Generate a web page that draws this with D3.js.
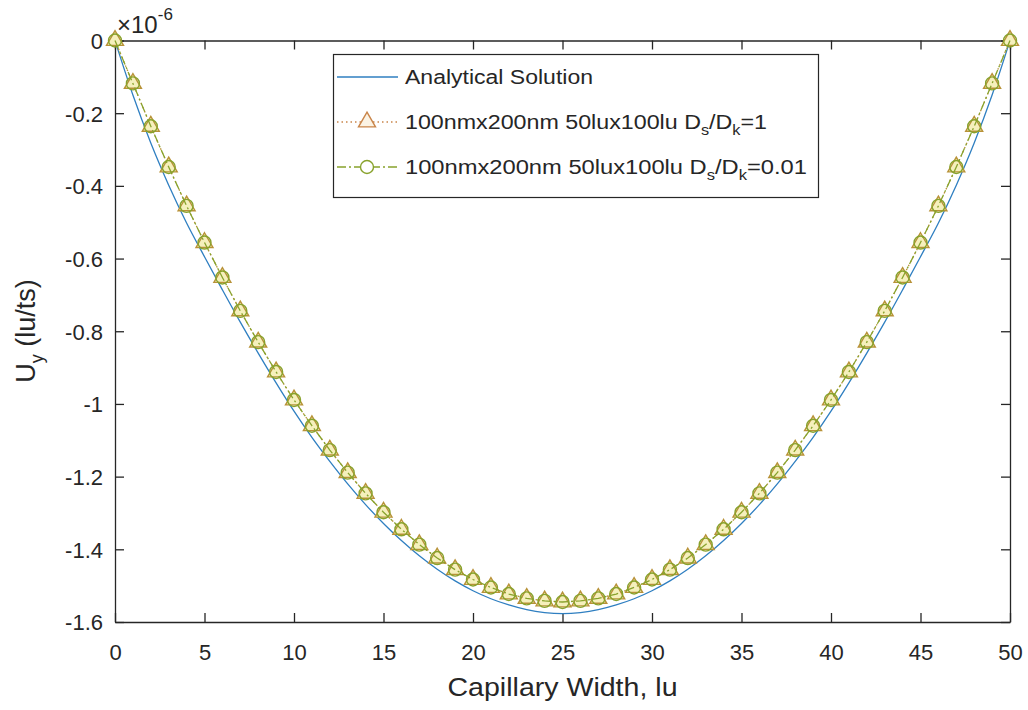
<!DOCTYPE html>
<html>
<head>
<meta charset="utf-8">
<script src="https://cdn.jsdelivr.net/npm/d3@7"></script>
<style>
  body { margin: 0; background: #fff; }
  svg { display: block; }
  text { font-family: "Liberation Sans", Arial, Helvetica, sans-serif; fill: #262626; }
</style>
</head>
<body>
<svg id="chart" width="1028" height="710"></svg>
<script>
// Node positions across the capillary (lattice units)
const widthLu = d3.range(0, 51);

// Velocity profiles, in units of 1e-6 lu/ts
const analyticalU = [
  0, -0.150, -0.282, -0.398, -0.502, -0.595, -0.686, -0.775, -0.860, -0.942,
  -1.020, -1.092, -1.158, -1.220, -1.277, -1.329, -1.376, -1.418, -1.455, -1.487,
  -1.514, -1.536, -1.553, -1.566, -1.574, -1.577, -1.574, -1.566, -1.553, -1.536,
  -1.514, -1.487, -1.455, -1.418, -1.376, -1.329, -1.277, -1.220, -1.158, -1.092,
  -1.020, -0.942, -0.860, -0.775, -0.686, -0.595, -0.502, -0.398, -0.282, -0.150, 0
];
const ratio1U = [
  0, -0.118, -0.236, -0.348, -0.455, -0.556, -0.652, -0.744, -0.830, -0.912,
  -0.989, -1.060, -1.127, -1.189, -1.246, -1.298, -1.345, -1.387, -1.424, -1.456,
  -1.483, -1.505, -1.523, -1.535, -1.542, -1.545, -1.542, -1.535, -1.523, -1.505,
  -1.483, -1.456, -1.424, -1.387, -1.345, -1.298, -1.246, -1.189, -1.127, -1.060,
  -0.989, -0.912, -0.830, -0.744, -0.652, -0.556, -0.455, -0.348, -0.236, -0.118, 0
];
const ratio001U = [
  0, -0.118, -0.236, -0.348, -0.455, -0.556, -0.652, -0.744, -0.830, -0.912,
  -0.989, -1.060, -1.127, -1.189, -1.246, -1.298, -1.345, -1.387, -1.424, -1.456,
  -1.483, -1.505, -1.523, -1.535, -1.542, -1.545, -1.542, -1.535, -1.523, -1.505,
  -1.483, -1.456, -1.424, -1.387, -1.345, -1.298, -1.246, -1.189, -1.127, -1.060,
  -0.989, -0.912, -0.830, -0.744, -0.652, -0.556, -0.455, -0.348, -0.236, -0.118, 0
];

const xTicks = [0, 5, 10, 15, 20, 25, 30, 35, 40, 45, 50];
const xTickLabels = ["0", "5", "10", "15", "20", "25", "30", "35", "40", "45", "50"];
const yTicks = [0, -0.2, -0.4, -0.6, -0.8, -1, -1.2, -1.4, -1.6];
const yTickLabels = ["0", "-0.2", "-0.4", "-0.6", "-0.8", "-1", "-1.2", "-1.4", "-1.6"];

const colors = {
  axis: "#262626",
  analytical: "#2f7fc1",
  ratio1: "#b89238",
  ratio001: "#88a22c",
  markerFill: "#f5f0bc"
};

const svg = d3.select("#chart");
const plot = { left: 115, right: 1010, top: 40.5, bottom: 622 };

const x = d3.scaleLinear().domain([0, 50]).range([plot.left, plot.right]);
const y = d3.scaleLinear().domain([-1.6, 0]).range([plot.bottom, plot.top]);

// Axes: ticks point inward on all four sides
const tickLen = 9;
const fontTick = 22;

const gB = svg.append("g").attr("transform", `translate(0,${plot.bottom})`)
  .call(d3.axisBottom(x).tickValues(xTicks).tickSizeInner(-tickLen).tickSizeOuter(0)
    .tickPadding(0).tickFormat((d, i) => xTickLabels[i]));
const gT = svg.append("g").attr("transform", `translate(0,${plot.top})`)
  .call(d3.axisTop(x).tickValues(xTicks).tickSizeInner(-tickLen).tickSizeOuter(0).tickFormat(""));
const gL = svg.append("g").attr("transform", `translate(${plot.left},0)`)
  .call(d3.axisLeft(y).tickValues(yTicks).tickSizeInner(-tickLen).tickSizeOuter(0)
    .tickPadding(0).tickFormat((d, i) => yTickLabels[i]));
const gR = svg.append("g").attr("transform", `translate(${plot.right},0)`)
  .call(d3.axisRight(y).tickValues(yTicks).tickSizeInner(-tickLen).tickSizeOuter(0).tickFormat(""));

[gB, gT, gL, gR].forEach(g => {
  g.select(".domain").attr("stroke", colors.axis).attr("stroke-width", 1.3);
  g.selectAll(".tick line").attr("stroke", colors.axis).attr("stroke-width", 1.3);
  g.selectAll("text").attr("font-family", null).attr("fill", colors.axis);
});
gB.selectAll(".tick text")
  .attr("font-size", fontTick).attr("y", 38).attr("dy", null);
gL.selectAll(".tick text")
  .attr("font-size", fontTick).attr("x", -12).attr("dy", "0.36em");

// Exponent label above the y axis
const expo = svg.append("text").attr("x", 117).attr("y", 33).attr("font-size", 24);
expo.append("tspan").text("\u00d710");
expo.append("tspan").attr("font-size", 17).attr("dy", -13).text("-6");

// Axis titles
svg.append("text")
  .attr("x", (plot.left + plot.right) / 2).attr("y", 696)
  .attr("text-anchor", "middle").attr("font-size", 25)
  .attr("textLength", 230).attr("lengthAdjust", "spacingAndGlyphs")
  .text("Capillary Width, lu");

const yTitle = svg.append("text")
  .attr("transform", "translate(35,331) rotate(-90)")
  .attr("text-anchor", "middle").attr("font-size", 27);
yTitle.append("tspan").text("U");
yTitle.append("tspan").attr("font-size", 18).attr("dy", 8).text("y");
yTitle.append("tspan").attr("dy", -8).text(" (lu/ts)");

// Series
const lineGen = vals => d3.line()
  .x((d, i) => x(widthLu[i]))
  .y(d => y(d))(vals);
const smoothLine = vals => d3.line()
  .x((d, i) => x(widthLu[i]))
  .y(d => y(d))
  .curve(d3.curveMonotoneX)(vals);

const triSym = d3.symbol().type(d3.symbolTriangle).size(125);

svg.append("path")
  .attr("d", smoothLine(analyticalU))
  .attr("fill", "none").attr("stroke", colors.analytical).attr("stroke-width", 1.3);

svg.append("path")
  .attr("d", lineGen(ratio1U))
  .attr("fill", "none").attr("stroke", colors.ratio1).attr("stroke-width", 1.3)
  .attr("stroke-dasharray", "1.5,3");
svg.append("g").selectAll("path").data(ratio1U).join("path")
  .attr("d", triSym)
  .attr("transform", (d, i) => `translate(${x(widthLu[i])},${y(d)})`)
  .attr("fill", colors.markerFill).attr("stroke", colors.ratio1).attr("stroke-width", 1.4);

svg.append("path")
  .attr("d", lineGen(ratio001U))
  .attr("fill", "none").attr("stroke", colors.ratio001).attr("stroke-width", 1.3)
  .attr("stroke-dasharray", "9,3,2,3");
svg.append("g").selectAll("circle").data(ratio001U).join("circle")
  .attr("cx", (d, i) => x(widthLu[i])).attr("cy", d => y(d)).attr("r", 6.5)
  .attr("fill", "none").attr("stroke", colors.ratio001).attr("stroke-width", 1.4);

// Legend
const legend = svg.append("g");
legend.append("rect")
  .attr("x", 333.5).attr("y", 54.5).attr("width", 485).attr("height", 143)
  .attr("fill", "#fff").attr("stroke", colors.axis).attr("stroke-width", 1.2);

const rows = [
  { y: 77, main: "Analytical Solution", len: 188 },
  { y: 122, main: "100nmx200nm 50lux100lu D", sub1: "s", mid: "/D", sub2: "k", tail: "=1", len: 362 },
  { y: 167, main: "100nmx200nm 50lux100lu D", sub1: "s", mid: "/D", sub2: "k", tail: "=0.01", len: 402 }
];

legend.append("line").attr("x1", 337).attr("x2", 398).attr("y1", rows[0].y).attr("y2", rows[0].y)
  .attr("stroke", colors.analytical).attr("stroke-width", 1.3);
legend.append("line").attr("x1", 337).attr("x2", 398).attr("y1", rows[1].y).attr("y2", rows[1].y)
  .attr("stroke", "#c9854a").attr("stroke-width", 1.3).attr("stroke-dasharray", "1.5,3");
legend.append("path").attr("d", triSym).attr("transform", `translate(367,${rows[1].y})`)
  .attr("fill", "#fbf3e4").attr("stroke", "#c9854a").attr("stroke-width", 1.4);
legend.append("line").attr("x1", 337).attr("x2", 398).attr("y1", rows[2].y).attr("y2", rows[2].y)
  .attr("stroke", colors.ratio001).attr("stroke-width", 1.3).attr("stroke-dasharray", "9,3,2,3");
legend.append("circle").attr("cx", 367).attr("cy", rows[2].y).attr("r", 6.5)
  .attr("fill", "#fff").attr("stroke", colors.ratio001).attr("stroke-width", 1.4);

rows.forEach(r => {
  const t = legend.append("text").attr("x", 405).attr("y", r.y + 7)
    .attr("font-size", 20).attr("textLength", r.len).attr("lengthAdjust", "spacingAndGlyphs");
  t.append("tspan").text(r.main);
  if (r.sub1) {
    t.append("tspan").attr("font-size", 14).attr("dy", 6).text(r.sub1);
    t.append("tspan").attr("dy", -6).text(r.mid);
    t.append("tspan").attr("font-size", 14).attr("dy", 6).text(r.sub2);
    t.append("tspan").attr("dy", -6).text(r.tail);
  }
});
</script>
</body>
</html>
